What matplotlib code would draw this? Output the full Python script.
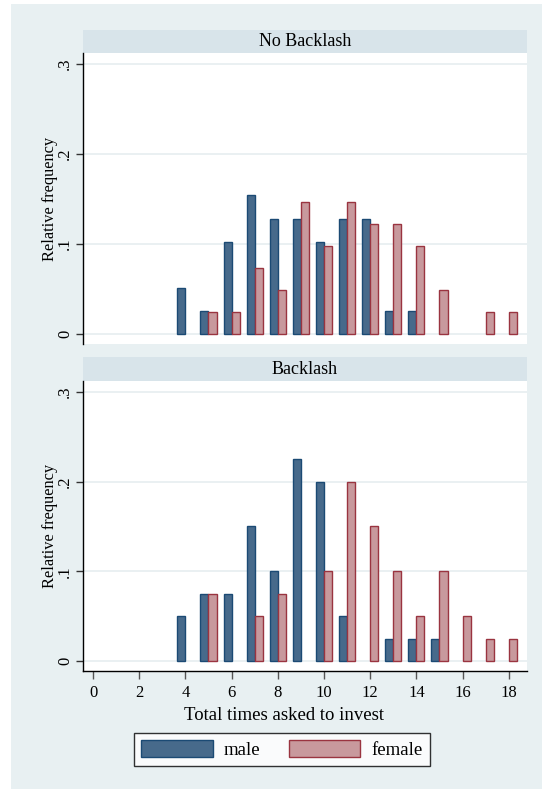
import matplotlib
matplotlib.use("Agg")
import matplotlib.pyplot as plt
from matplotlib.patches import Patch

# ---- data ----
x_male_nb = [4, 5, 6, 7, 8, 9, 10, 11, 12, 13, 14]
y_male_nb = [2/39, 1/39, 4/39, 6/39, 5/39, 5/39, 4/39, 5/39, 5/39, 1/39, 1/39]
x_female_nb = [5, 6, 7, 8, 9, 10, 11, 12, 13, 14, 15, 17, 18]
y_female_nb = [1/41, 1/41, 3/41, 2/41, 6/41, 4/41, 6/41, 5/41, 5/41, 4/41, 2/41, 1/41, 1/41]

x_male_b = [4, 5, 6, 7, 8, 9, 10, 11, 13, 14, 15]
y_male_b = [0.05, 0.075, 0.075, 0.15, 0.10, 0.225, 0.20, 0.05, 0.025, 0.025, 0.025]
x_female_b = [5, 7, 8, 10, 11, 12, 13, 14, 15, 16, 17, 18]
y_female_b = [0.075, 0.05, 0.075, 0.10, 0.20, 0.15, 0.10, 0.05, 0.10, 0.05, 0.025, 0.025]

panel_titles = ["No Backlash", "Backlash"]
y_ticks = [0, 0.1, 0.2, 0.3]
y_ticklabels = ["0", ".1", ".2", ".3"]
x_ticks = list(range(0, 19, 2))
series_labels = ["male", "female"]

# ---- style ----
W, H = 542, 789
BG = "#E8F0F2"
STRIP = "#D8E4EA"
GRID = "#E6EEF0"
MALE_FC, MALE_EC = "#476A8B", "#1B4A74"
FEM_FC, FEM_EC = "#C8999D", "#9A3440"
FONT = "Liberation Serif"
plt.rcParams["font.family"] = [FONT, "DejaVu Serif"]

fig = plt.figure(figsize=(W / 100, H / 100), dpi=100)
fig.patch.set_facecolor("white")
bgax = fig.add_axes([11 / W, 0, 1 - 11 / W, 1 - 4 / H])
bgax.set_facecolor(BG)
bgax.set_xticks([]); bgax.set_yticks([])
for s in bgax.spines.values():
    s.set_visible(False)
bgax.set_zorder(-10)


def px_axes(x0, y0, x1, y1):
    return fig.add_axes([x0 / W, 1 - y1 / H, (x1 - x0) / W, (y1 - y0) / H])


XL, XR = 83, 527
bw = 0.35
xlim = (-0.433, 18.79)
ylim = (-0.011, 0.312)

panels = [
    (panel_titles[0], 30, 53, 344, x_male_nb, y_male_nb, x_female_nb, y_female_nb, False),
    (panel_titles[1], 357, 381, 671, x_male_b, y_male_b, x_female_b, y_female_b, True),
]

for title, st0, st1, pb, xm, ym, xf, yf, show_x in panels:
    sax = px_axes(XL, st0, XR, st1)
    sax.set_facecolor(STRIP)
    sax.set_xticks([]); sax.set_yticks([])
    for s in sax.spines.values():
        s.set_visible(False)
    sax.text(0.5, 0.5, title, ha="center", va="center", fontsize=13,
             transform=sax.transAxes)

    ax = px_axes(XL, st1, XR, pb)
    ax.set_facecolor("white")
    ax.set_xlim(*xlim)
    ax.set_ylim(*ylim)
    for yv in y_ticks:
        ax.axhline(yv, color=GRID, lw=1.2, zorder=0)
    ax.bar([v - bw / 2 for v in xm], ym, width=bw, color=MALE_FC,
           edgecolor=MALE_EC, linewidth=1.0, zorder=2)
    ax.bar([v + bw / 2 for v in xf], yf, width=bw, color=FEM_FC,
           edgecolor=FEM_EC, linewidth=1.0, zorder=2)
    ax.spines["top"].set_visible(False)
    ax.spines["right"].set_visible(False)
    ax.spines["left"].set_linewidth(1.0)
    ax.set_yticks(y_ticks)
    ax.set_yticklabels(y_ticklabels, rotation=90, va="center", fontsize=12)
    ax.tick_params(axis="y", length=5, width=1, pad=2, color="#333333")
    ax.set_ylabel("Relative frequency", fontsize=11.8, va="center")
    ax.yaxis.set_label_coords((49.5 - XL) / (XR - XL), 0.5)
    if show_x:
        ax.spines["bottom"].set_linewidth(1.0)
        ax.set_xticks(x_ticks)
        ax.set_xticklabels([str(v) for v in x_ticks], fontsize=12)
        ax.tick_params(axis="x", length=6, width=1, pad=4, color="#555555")
        ax.set_xlabel("Total times asked to invest", fontsize=13.5, va="center")
        ax.xaxis.set_label_coords((283.5 - XL) / (XR - XL), -(716 - pb) / (pb - st1))
    else:
        ax.spines["bottom"].set_visible(False)
        ax.set_xticks([])

handles = [Patch(facecolor=MALE_FC, edgecolor=MALE_EC, label=series_labels[0]),
           Patch(facecolor=FEM_FC, edgecolor=FEM_EC, label=series_labels[1])]
leg = fig.legend(handles=handles, loc="center",
                 bbox_to_anchor=(282 / W, 1 - 749.5 / H), ncol=2,
                 fontsize=13.5, frameon=True, fancybox=False,
                 handlelength=3.8, handleheight=1.0, handletextpad=0.6,
                 columnspacing=1.5, borderpad=0.4, borderaxespad=0)
leg.get_frame().set_edgecolor("black")
leg.get_frame().set_linewidth(1.0)
leg.get_frame().set_facecolor("white")

fig.savefig("out.png", dpi=100, facecolor=fig.get_facecolor())
